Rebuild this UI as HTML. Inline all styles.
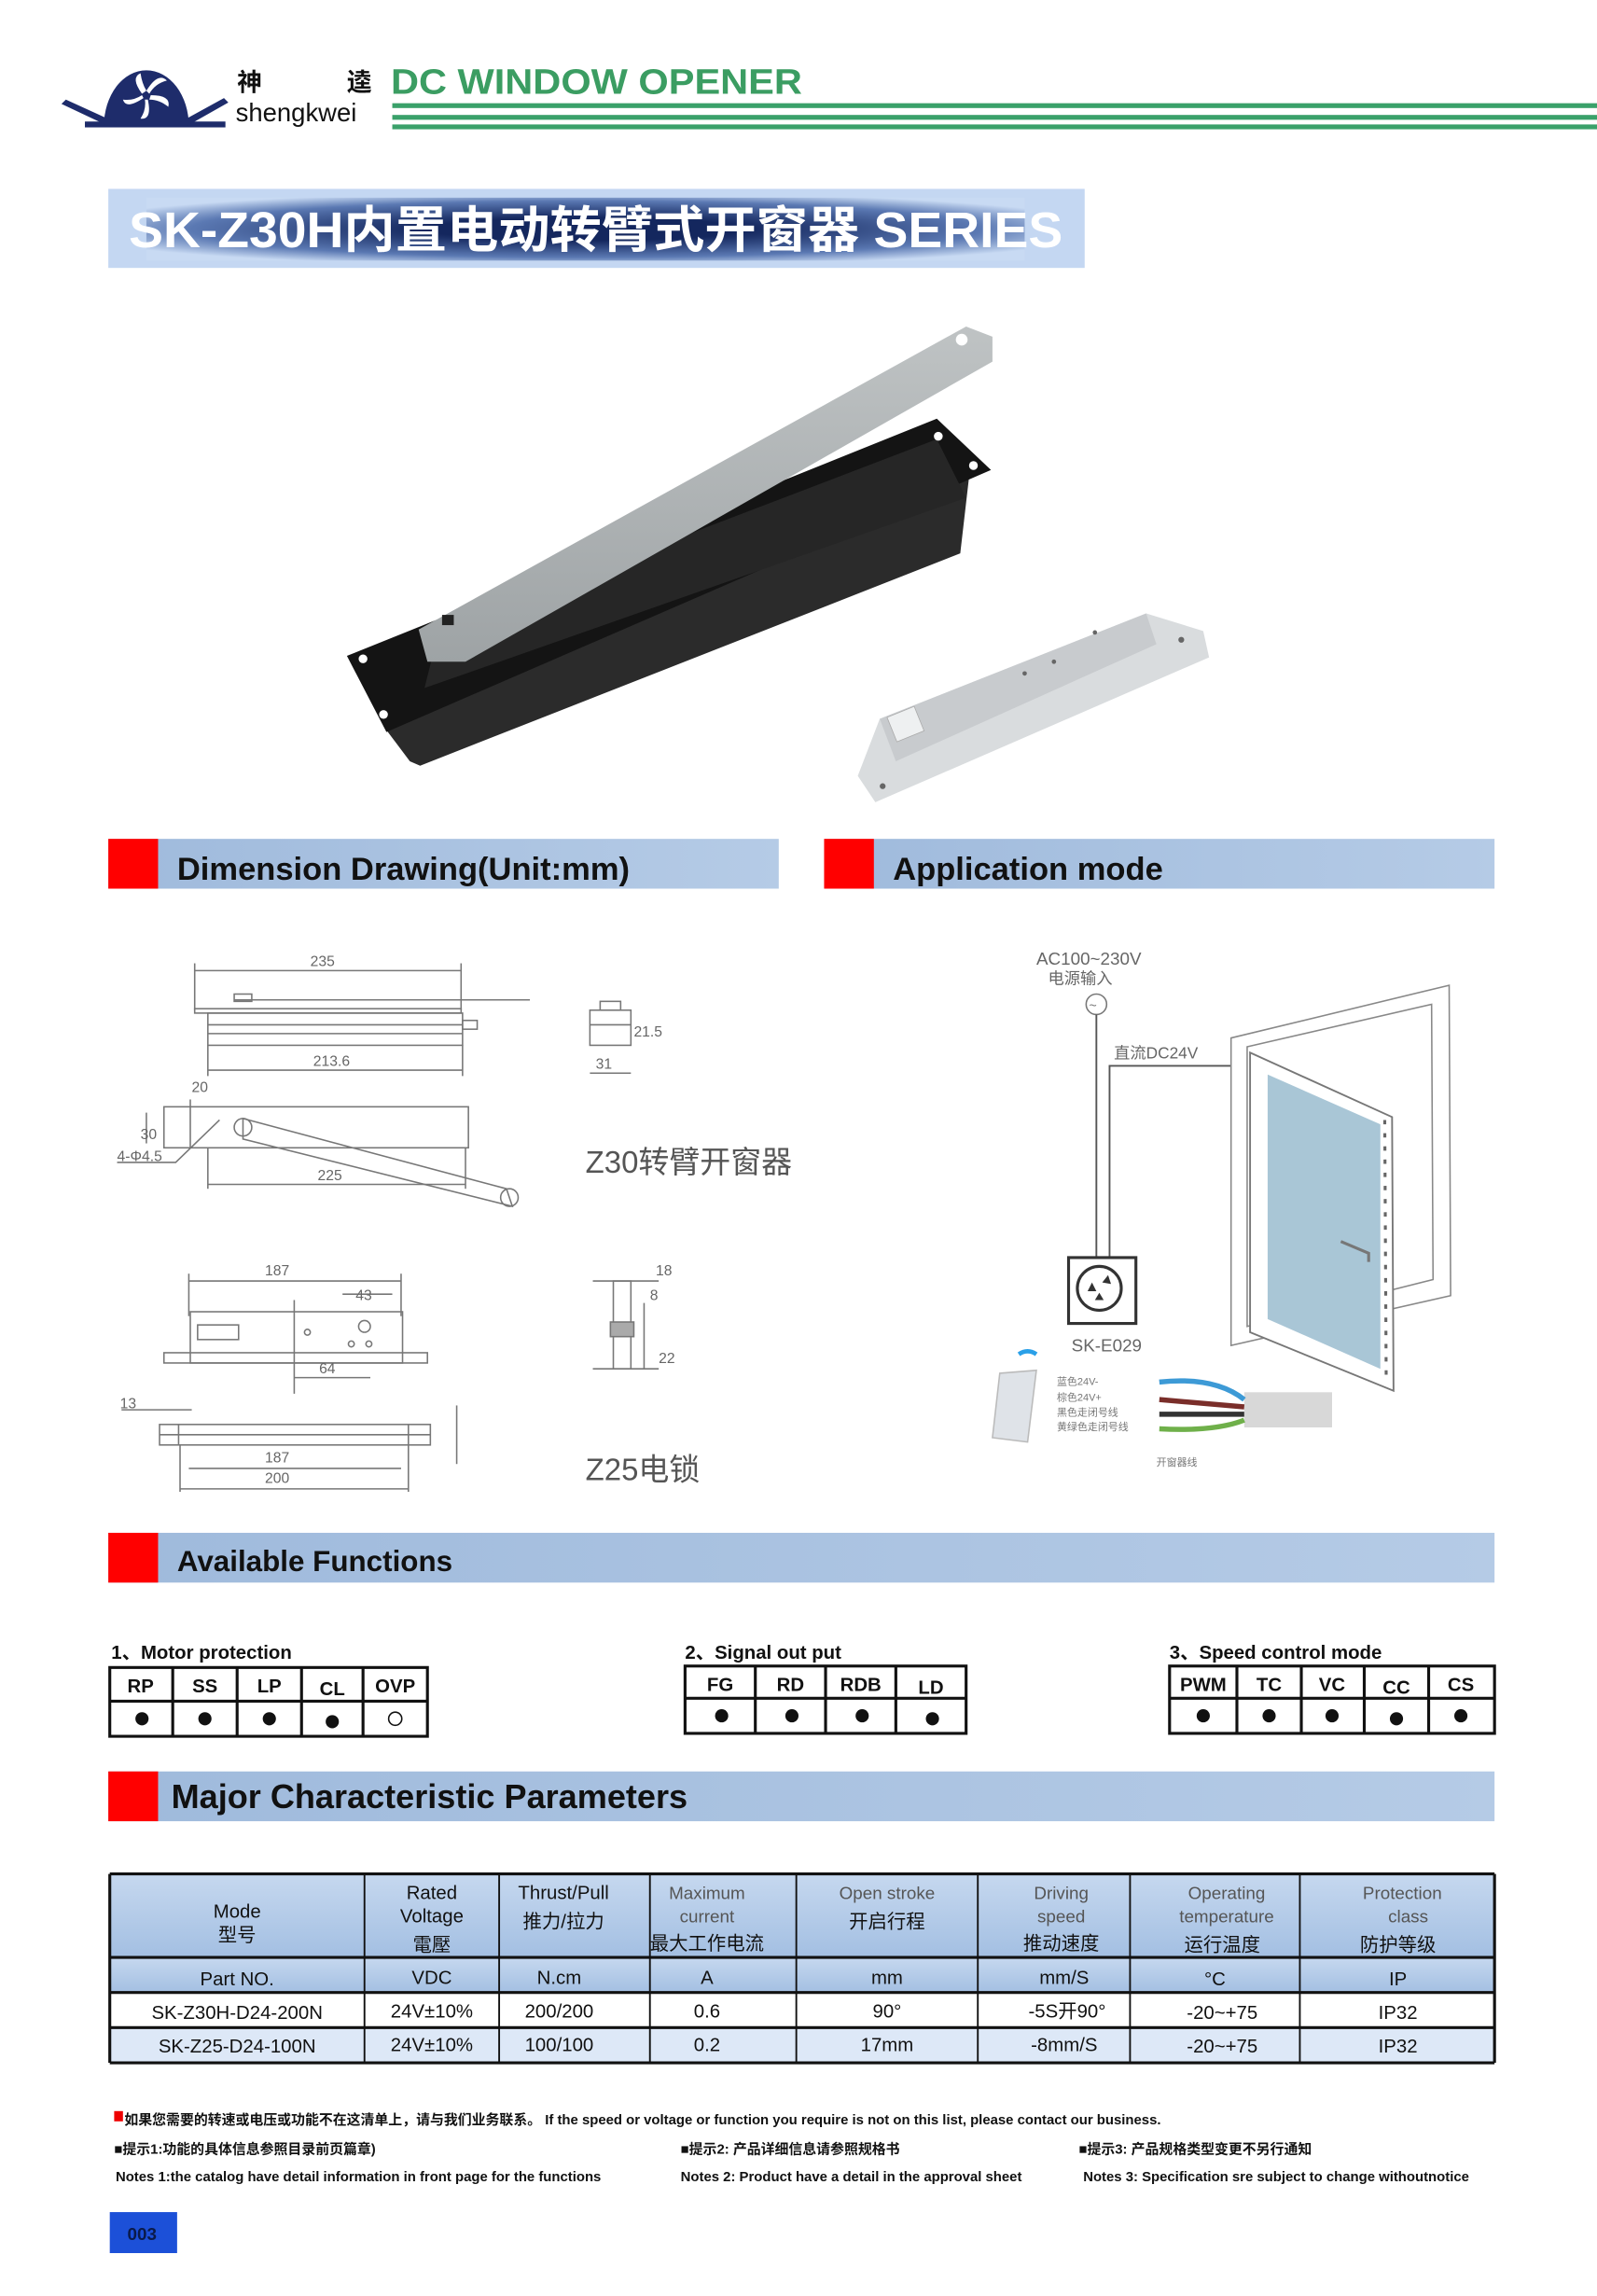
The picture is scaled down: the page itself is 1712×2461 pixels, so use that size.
<!DOCTYPE html>
<html><head><meta charset="utf-8"><style>
html,body{margin:0;padding:0;background:#fff;}
svg{display:block;}
text{font-family:"Liberation Sans","Noto Sans CJK SC",sans-serif;}
</style></head><body>
<svg width="1712" height="2461" viewBox="0 0 1091 1568.3" xmlns="http://www.w3.org/2000/svg">
<defs>
<linearGradient id="hdr" x1="0" y1="0" x2="1" y2="0"><stop offset="0" stop-color="#9fbadc"/><stop offset="1" stop-color="#b5cbe6"/></linearGradient>
<radialGradient id="ttl" cx="0.5" cy="0.5" r="0.6"><stop offset="0.3" stop-color="#14275e"/><stop offset="0.75" stop-color="#5b79b3"/><stop offset="1" stop-color="#c8daf3"/></radialGradient>
<linearGradient id="th" x1="0" y1="0" x2="0" y2="1"><stop offset="0" stop-color="#c6d8ef"/><stop offset="1" stop-color="#a3bfe2"/></linearGradient>
<linearGradient id="arm" x1="0" y1="0" x2="0" y2="1"><stop offset="0" stop-color="#bfc3c4"/><stop offset="1" stop-color="#9ea3a5"/></linearGradient>
</defs>

<!-- Logo -->
<path d="M71,86 A29,38 0 0 1 129,86 Z" fill="#1e2c6b"/>
<rect x="58" y="83" width="96" height="4" fill="#1e2c6b"/>
<path d="M45,68 L80,84 L76,87 L42,71 Z" fill="#1e2c6b"/>
<path d="M153,67 L122,84 L126,87 L156,70 Z" fill="#1e2c6b"/>
<g fill="#fff" transform="translate(100,65)">
<path d="M0,-3 Q8,-16 14,-10 Q6,-8 2,-1Z"/><path d="M3,0 Q17,0 15,8 Q9,3 2,3Z"/><path d="M1,3 Q4,17 -4,16 Q0,10 -1,3Z"/><path d="M-2,2 Q-14,10 -16,3 Q-9,4 -3,0Z"/><path d="M-3,-1 Q-11,-12 -4,-15 Q-3,-8 0,-3Z"/>
</g>
<text x="162" y="62" font-size="17" font-weight="bold" fill="#111">神</text>
<text x="237" y="62" font-size="17" font-weight="bold" fill="#111">逵</text>
<text x="161" y="83" font-size="17.5" fill="#111">shengkwei</text>
<text x="267" y="64" font-size="24" font-weight="bold" fill="#3b9d62" textLength="281" lengthAdjust="spacingAndGlyphs">DC WINDOW OPENER</text>
<rect x="268" y="70.5" width="823" height="3.3" fill="#3aa16a"/>
<rect x="268" y="78.5" width="823" height="3.3" fill="#3aa16a"/>
<rect x="268" y="85" width="823" height="3.3" fill="#3aa16a"/>

<!-- Title banner -->
<rect x="74" y="129" width="667" height="54" fill="#c4d7f2"/>
<rect x="100" y="135" width="600" height="43" fill="url(#ttl)"/>
<text x="88" y="169" font-size="34" font-weight="bold" fill="#fff" textLength="638" lengthAdjust="spacingAndGlyphs">SK-Z30H内置电动转臂式开窗器 SERIES</text>

<!-- Product -->
<polygon points="262,496 662,326 656,378 287,523 280,520" fill="#2b2b2b"/>
<polygon points="237,448 640,286 677,321 264,500" fill="#141414"/>
<polygon points="300,430 640,300 660,340 290,470" fill="#262626"/>
<g fill="#fff"><circle cx="248" cy="450" r="3"/><circle cx="262" cy="488" r="3"/><circle cx="641" cy="298" r="3"/><circle cx="665" cy="318" r="3"/></g>
<polygon points="286,430 660,223 678,230 678,247 318,452 292,452" fill="url(#arm)"/>
<circle cx="657" cy="232" r="4" fill="#fff"/>
<rect x="302" y="420" width="8" height="7" fill="#222"/>
<polygon points="586,530 601,491 783,419 822,431 826,449 598,548" fill="#d9dcde"/>
<polygon points="601,491 783,419 790,440 612,520" fill="#c8cbce"/>
<rect x="606" y="490" width="20" height="18" fill="#eef0f1" stroke="#aaa" stroke-width="0.5" transform="rotate(-22 606 490)"/>
<g fill="#666"><circle cx="748" cy="432" r="1.5"/><circle cx="720" cy="452" r="1.5"/><circle cx="700" cy="460" r="1.5"/><circle cx="807" cy="437" r="2"/><circle cx="603" cy="537" r="2"/></g>

<!-- Section headers -->
<rect x="74" y="573" width="458" height="34" fill="url(#hdr)"/><rect x="74" y="573" width="34" height="34" fill="#f00"/>
<text x="121" y="601" font-size="22" font-weight="bold" fill="#111">Dimension Drawing(Unit:mm)</text>
<rect x="563" y="573" width="458" height="34" fill="url(#hdr)"/><rect x="563" y="573" width="34" height="34" fill="#f00"/>
<text x="610" y="601" font-size="22" font-weight="bold" fill="#111">Application mode</text>

<!-- Dimension drawings -->
<g stroke="#777" stroke-width="1" fill="none">
<line x1="133" y1="663" x2="315" y2="663"/><line x1="133" y1="658" x2="133" y2="690"/><line x1="315" y1="658" x2="315" y2="690"/>
<line x1="160" y1="683" x2="362" y2="683"/><rect x="160" y="679" width="12" height="5"/>
<rect x="133" y="689" width="182" height="3"/>
<rect x="142" y="692" width="174" height="22"/><line x1="142" y1="700" x2="316" y2="700"/><line x1="142" y1="706" x2="316" y2="706"/>
<rect x="316" y="697" width="10" height="6"/>
<line x1="142" y1="731" x2="316" y2="731"/><line x1="142" y1="714" x2="142" y2="735"/><line x1="316" y1="714" x2="316" y2="735"/>
<rect x="112" y="756" width="208" height="28"/>
<line x1="130" y1="751" x2="130" y2="784"/>
<polygon points="166,764 346,812 350,824 166,778"/>
<circle cx="166" cy="770" r="6"/><circle cx="348" cy="818" r="6"/>
<line x1="142" y1="809" x2="318" y2="809"/><line x1="142" y1="784" x2="142" y2="812"/><line x1="318" y1="784" x2="318" y2="812"/>
<path d="M80,794 L120,794 L150,765"/><path d="M100,781 L100,760"/>
<rect x="403" y="690" width="28" height="24"/><rect x="410" y="684" width="14" height="6"/><line x1="403" y1="700" x2="431" y2="700"/>
<line x1="403" y1="733" x2="431" y2="733"/>
<line x1="129" y1="875" x2="274" y2="875"/><line x1="129" y1="870" x2="129" y2="899"/><line x1="274" y1="870" x2="274" y2="899"/>
<rect x="130" y="896" width="145" height="35"/><rect x="112" y="924" width="180" height="7"/><rect x="135" y="905" width="28" height="10"/>
<line x1="201" y1="888" x2="201" y2="952"/><line x1="201" y1="941" x2="253" y2="941"/><line x1="234" y1="884" x2="268" y2="884"/>
<circle cx="249" cy="906" r="4"/><circle cx="210" cy="910" r="2"/><circle cx="240" cy="918" r="2"/><circle cx="252" cy="918" r="2"/>
<line x1="83" y1="963" x2="131" y2="963"/>
<rect x="109" y="973" width="185" height="14"/><line x1="122" y1="973" x2="122" y2="987"/><line x1="279" y1="973" x2="279" y2="987"/><line x1="109" y1="980" x2="294" y2="980"/>
<line x1="129" y1="1003" x2="274" y2="1003"/><line x1="123" y1="1017" x2="279" y2="1017"/><line x1="123" y1="987" x2="123" y2="1019"/><line x1="279" y1="987" x2="279" y2="1019"/>
<line x1="312" y1="960" x2="312" y2="1000"/>
<rect x="419" y="875" width="12" height="60"/><line x1="405" y1="875" x2="450" y2="875"/><line x1="405" y1="935" x2="450" y2="935"/><rect x="417" y="903" width="16" height="10" fill="#aaa"/>
<line x1="440" y1="890" x2="440" y2="935"/>
</g>
<g font-size="10" fill="#666">
<text x="212" y="660">235</text><text x="214" y="728">213.6</text><text x="131" y="746">20</text><text x="96" y="778">30</text><text x="80" y="793">4-Φ4.5</text><text x="217" y="806">225</text>
<text x="433" y="708">21.5</text><text x="407" y="730">31</text>
<text x="181" y="871">187</text><text x="243" y="888">43</text><text x="218" y="938">64</text><text x="448" y="871">18</text><text x="444" y="888">8</text><text x="450" y="931">22</text>
<text x="82" y="962">13</text><text x="181" y="999">187</text><text x="181" y="1013">200</text>
</g>
<text x="400" y="801" font-size="21" fill="#555">Z30转臂开窗器</text>
<text x="400" y="1011" font-size="21" fill="#555">Z25电锁</text>

<!-- Application mode -->
<text x="708" y="659" font-size="12" fill="#666" font-family="Liberation Serif">AC100~230V</text>
<text x="716" y="672" font-size="11" fill="#666">电源输入</text>
<circle cx="749" cy="686" r="7" fill="none" stroke="#777"/><text x="744" y="690" font-size="9" fill="#777">~</text>
<g stroke="#555" stroke-width="1.2" fill="none">
<line x1="749" y1="693" x2="749" y2="860"/><path d="M758,860 L758,728 L847,728"/>
</g>
<text x="761" y="723" font-size="11" fill="#666" font-family="Liberation Serif">直流DC24V</text>
<rect x="730" y="859" width="46" height="45" fill="#fff" stroke="#333" stroke-width="2"/>
<circle cx="751" cy="880" r="15" fill="none" stroke="#333" stroke-width="2"/>
<g fill="#333"><path d="M743,882 l3,-6 l3,6z"/><path d="M753,876 l4,-5 l2,6z"/><path d="M748,888 l3,-5 l3,5z"/></g>
<text x="732" y="923" font-size="12" fill="#666">SK-E029</text>
<polygon points="841,709 990,673 991,885 841,919" fill="#fff" stroke="#888" stroke-width="1"/>
<polygon points="852,715 978,686 979,874 852,906" fill="#fff" stroke="#888" stroke-width="1"/>
<polygon points="854,719 951,763 952,950 854,910" fill="#fff" stroke="#777" stroke-width="1.2"/>
<polygon points="866,734 943,768 943,935 866,901" fill="#a9c6d6"/>
<line x1="946" y1="765" x2="947" y2="945" stroke="#666" stroke-width="2" stroke-dasharray="3,6"/>
<path d="M916,848 L935,856 L935,862" stroke="#777" stroke-width="2" fill="none"/>
<path d="M696,925 q6,-4 12,0" stroke="#2aa0e8" stroke-width="3" fill="none"/>
<polygon points="683,938 708,936 702,985 678,982" fill="#dfe3e8" stroke="#bbb"/>
<g font-size="7" fill="#777"><text x="722" y="946">蓝色24V-</text><text x="722" y="957">棕色24V+</text><text x="722" y="967">黑色走闭号线</text><text x="722" y="977">黄绿色走闭号线</text><text x="790" y="1001">开窗器线</text></g>
<rect x="850" y="951" width="60" height="24" fill="#d8d8d8"/>
<g stroke-width="3.5" fill="none"><path d="M792,944 Q830,940 850,956" stroke="#3d9ad6"/><path d="M792,956 L850,961" stroke="#7a2e2a"/><path d="M792,966 L850,966" stroke="#333"/><path d="M792,976 Q830,978 850,970" stroke="#6fb04a"/></g>

<!-- Available Functions -->
<rect x="74" y="1047" width="947" height="34" fill="url(#hdr)"/><rect x="74" y="1047" width="34" height="34" fill="#f00"/>
<text x="121" y="1073" font-size="20" font-weight="bold" fill="#111">Available Functions</text>

<g font-size="13" font-weight="bold" fill="#111">
<text x="76" y="1133">1、Motor protection</text>
<text x="468" y="1133">2、Signal out put</text>
<text x="799" y="1133">3、Speed control mode</text>
</g>
<g stroke="#111" stroke-width="2" fill="none">
<rect x="75" y="1139" width="217" height="47"/><line x1="75" y1="1162" x2="292" y2="1162"/>
<line x1="118" y1="1139" x2="118" y2="1186"/><line x1="162" y1="1139" x2="162" y2="1186"/><line x1="206" y1="1139" x2="206" y2="1186"/><line x1="248" y1="1139" x2="248" y2="1186"/>
<rect x="468" y="1138" width="192" height="46"/><line x1="468" y1="1160" x2="660" y2="1160"/>
<line x1="516" y1="1138" x2="516" y2="1184"/><line x1="564" y1="1138" x2="564" y2="1184"/><line x1="612" y1="1138" x2="612" y2="1184"/>
<rect x="799" y="1138" width="222" height="46"/><line x1="799" y1="1160" x2="1021" y2="1160"/>
<line x1="845" y1="1138" x2="845" y2="1184"/><line x1="889" y1="1138" x2="889" y2="1184"/><line x1="932" y1="1138" x2="932" y2="1184"/><line x1="976" y1="1138" x2="976" y2="1184"/>
</g>
<g font-size="13" font-weight="bold" fill="#111" text-anchor="middle">
<text x="96" y="1156">RP</text><text x="140" y="1156">SS</text><text x="184" y="1156">LP</text><text x="227" y="1158">CL</text><text x="270" y="1156">OVP</text>
<text x="492" y="1155">FG</text><text x="540" y="1155">RD</text><text x="588" y="1155">RDB</text><text x="636" y="1157">LD</text>
<text x="822" y="1155">PWM</text><text x="867" y="1155">TC</text><text x="910" y="1155">VC</text><text x="954" y="1157">CC</text><text x="998" y="1155">CS</text>
</g>
<g fill="#111">
<circle cx="97" cy="1174" r="4.5"/><circle cx="140" cy="1174" r="4.5"/><circle cx="184" cy="1174" r="4.5"/><circle cx="227" cy="1176" r="4.5"/>
<circle cx="493" cy="1172" r="4.5"/><circle cx="541" cy="1172" r="4.5"/><circle cx="589" cy="1172" r="4.5"/><circle cx="637" cy="1174" r="4.5"/>
<circle cx="822" cy="1172" r="4.5"/><circle cx="867" cy="1172" r="4.5"/><circle cx="910" cy="1172" r="4.5"/><circle cx="954" cy="1174" r="4.5"/><circle cx="998" cy="1172" r="4.5"/>
</g>
<circle cx="270" cy="1174" r="4.5" fill="none" stroke="#111"/>

<!-- Major parameters -->
<rect x="74" y="1210" width="947" height="34" fill="url(#hdr)"/><rect x="74" y="1210" width="34" height="34" fill="#f00"/>
<text x="117" y="1235" font-size="23" font-weight="bold" fill="#111">Major Characteristic Parameters</text>

<rect x="75" y="1280" width="946" height="57" fill="url(#th)"/>
<rect x="75" y="1337" width="946" height="24" fill="url(#th)"/>
<rect x="75" y="1361" width="946" height="24" fill="#fff"/>
<rect x="75" y="1385" width="946" height="24" fill="#dde8f7"/>
<g stroke="#111" stroke-width="2">
<line x1="75" y1="1280" x2="1021" y2="1280"/><line x1="75" y1="1337" x2="1021" y2="1337"/><line x1="75" y1="1361" x2="1021" y2="1361"/><line x1="75" y1="1385" x2="1021" y2="1385"/><line x1="75" y1="1409" x2="1021" y2="1409"/>
<line x1="75" y1="1280" x2="75" y2="1409"/><line x1="1021" y1="1280" x2="1021" y2="1409"/>
</g>
<g stroke="#111" stroke-width="1.2">
<line x1="249" y1="1280" x2="249" y2="1409"/><line x1="341" y1="1280" x2="341" y2="1409"/><line x1="444" y1="1280" x2="444" y2="1409"/><line x1="544" y1="1280" x2="544" y2="1409"/><line x1="668" y1="1280" x2="668" y2="1409"/><line x1="772" y1="1280" x2="772" y2="1409"/><line x1="888" y1="1280" x2="888" y2="1409"/>
</g>
<g font-size="13" fill="#111" text-anchor="middle">
<text x="162" y="1310">Mode</text><text x="162" y="1326">型号</text>
<text x="295" y="1297">Rated</text><text x="295" y="1313">Voltage</text><text x="295" y="1333">電壓</text>
<text x="385" y="1297">Thrust/Pull</text><text x="385" y="1317">推力/拉力</text>
<text x="483" y="1332">最大工作电流</text><text x="606" y="1317">开启行程</text><text x="725" y="1332">推动速度</text><text x="835" y="1333">运行温度</text><text x="955" y="1333">防护等级</text>
</g>
<g font-size="12" fill="#555" text-anchor="middle" font-family="Liberation Mono">
<text x="483" y="1297">Maximum</text><text x="483" y="1313">current</text>
<text x="606" y="1297">Open stroke</text>
<text x="725" y="1297">Driving</text><text x="725" y="1313">speed</text>
<text x="838" y="1297">Operating</text><text x="838" y="1313">temperature</text>
<text x="958" y="1297">Protection</text><text x="962" y="1313">class</text>
</g>
<g font-size="13" fill="#111" text-anchor="middle">
<text x="162" y="1356">Part NO.</text><text x="295" y="1355">VDC</text><text x="382" y="1355">N.cm</text><text x="483" y="1355">A</text><text x="606" y="1355">mm</text><text x="727" y="1355">mm/S</text><text x="830" y="1356">°C</text><text x="955" y="1356">IP</text>
<text x="162" y="1379">SK-Z30H-D24-200N</text><text x="295" y="1378">24V±10%</text><text x="382" y="1378">200/200</text><text x="483" y="1378">0.6</text><text x="606" y="1378">90°</text><text x="729" y="1378">-5S开90°</text><text x="835" y="1379">-20~+75</text><text x="955" y="1379">IP32</text>
<text x="162" y="1402">SK-Z25-D24-100N</text><text x="295" y="1401">24V±10%</text><text x="382" y="1401">100/100</text><text x="483" y="1401">0.2</text><text x="606" y="1401">17mm</text><text x="727" y="1401">-8mm/S</text><text x="835" y="1402">-20~+75</text><text x="955" y="1402">IP32</text>
</g>

<!-- Notes -->
<rect x="78" y="1442" width="6" height="7" fill="#e00"/>
<g font-size="9.5" font-weight="bold" fill="#111">
<text x="85" y="1451">如果您需要的转速或电压或功能不在这清单上，请与我们业务联系。 If the speed or voltage or function you require is not on this list, please contact our business.</text>
<text x="78" y="1471">■提示1:功能的具体信息参照目录前页篇章)</text>
<text x="465" y="1471">■提示2: 产品详细信息请参照规格书</text>
<text x="737" y="1471">■提示3:  产品规格类型变更不另行通知</text>
<text x="79" y="1490">Notes 1:the catalog have detail information in front page for the functions</text>
<text x="465" y="1490">Notes 2: Product have a   detail in the approval sheet</text>
<text x="740" y="1490">Notes 3: Specification sre subject to change withoutnotice</text>
</g>
<rect x="75" y="1511" width="46" height="28" fill="#1c50d8"/>
<text x="87" y="1530" font-size="12" font-weight="bold" fill="#0a1a4a">003</text>
</svg>
</body></html>
